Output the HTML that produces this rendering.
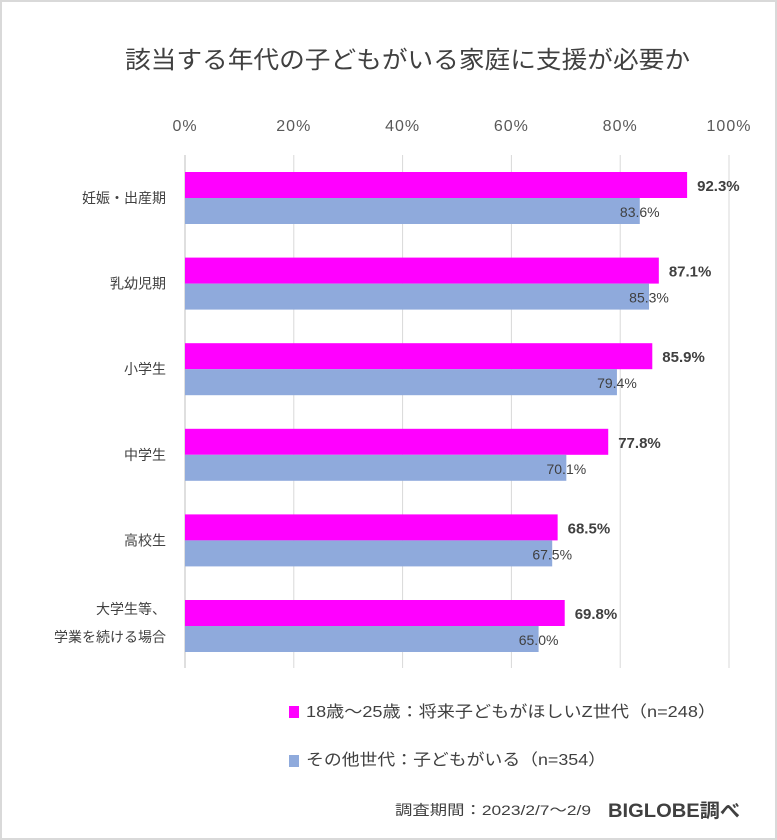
<!DOCTYPE html>
<html><head><meta charset="utf-8"><style>
body{margin:0;background:#fff;}
svg{display:block;font-family:"Liberation Sans","Noto Sans CJK JP",sans-serif;}
</style></head><body>
<svg id="c" width="777" height="840">
<rect x="1" y="1" width="775" height="838" fill="#fff" stroke="#d9d9d9" stroke-width="2"/>
<text x="125" y="68" font-size="24" textLength="565" lengthAdjust="spacingAndGlyphs" fill="#404040">該当する年代の子どもがいる家庭に支援が必要か</text>
<g id="grid"></g><g id="bars"></g>
<g>
<rect x="289" y="706" width="10" height="12" fill="#ff00ff"/>
<text x="306" y="717" font-size="16" textLength="410" lengthAdjust="spacingAndGlyphs" fill="#404040">18歳～25歳：将来子どもがほしいZ世代（n=248）</text>
<rect x="289" y="755" width="10" height="12" fill="#8faadc"/>
<text x="306" y="765" font-size="16" textLength="300" lengthAdjust="spacingAndGlyphs" fill="#404040">その他世代：子どもがいる（n=354）</text>
</g>
<text x="395" y="815" font-size="14" textLength="196" lengthAdjust="spacingAndGlyphs" fill="#404040">調査期間：2023/2/7～2/9</text>
<text x="608" y="817" font-size="19" font-weight="bold" textLength="132" lengthAdjust="spacingAndGlyphs" fill="#404040">BIGLOBE調べ</text>
</svg>
<script>
const categories=[["妊娠・出産期"],["乳幼児期"],["小学生"],["中学生"],["高校生"],["大学生等、","学業を続ける場合"]];
const seriesZ=[92.3,87.1,85.9,77.8,68.5,69.8];
const seriesOther=[83.6,85.3,79.4,70.1,67.5,65.0];
const ticks=[0,20,40,60,80,100];
const NS="http://www.w3.org/2000/svg";
const x=v=>185+v*5.44;
const y0=i=>172+i*85.6;
function mk(t,a,p){const e=document.createElementNS(NS,t);for(const k in a)e.setAttribute(k,a[k]);p.appendChild(e);return e;}
const g=document.getElementById('grid'),b=document.getElementById('bars');
ticks.forEach(t=>{
 const l=mk('line',{x1:x(t),x2:x(t),y1:155,y2:668,stroke:t==0?'#bfbfbf':'#d9d9d9','stroke-width':1},g);
 
 
 const tx=mk('text',{x:x(t),y:131,'font-size':16,'letter-spacing':1,fill:'#595959','text-anchor':'middle'},g);
 tx.textContent=t+'%';
 
 
});
categories.forEach((c,i)=>{
 const y=y0(i);
 const r1=mk('rect',{x:x(0),y:y,width:x(seriesZ[i])-x(0),height:26,fill:'#ff00ff'},b);
 
 
 const r2=mk('rect',{x:x(0),y:y+26,width:x(seriesOther[i])-x(0),height:26,fill:'#8faadc'},b);
 
 
 const t1=mk('text',{x:x(seriesZ[i])+10,y:y+19,'font-size':15,'font-weight':'bold',fill:'#404040'},b);
 t1.textContent=seriesZ[i].toFixed(1)+'%';
 
 
 const t2=mk('text',{x:x(seriesOther[i]),y:y+45,'font-size':14,fill:'#404040','text-anchor':'middle'},b);
 t2.textContent=seriesOther[i].toFixed(1)+'%';
 
 
 c.forEach((s,j)=>{
  const ly=c.length==1?y+31:y+14+j*28;
  const lt=mk('text',{x:166,y:ly,'font-size':14,fill:'#404040','text-anchor':'end'},b);
  lt.textContent=s;
  
  
 });
});
</script>
</body></html>
